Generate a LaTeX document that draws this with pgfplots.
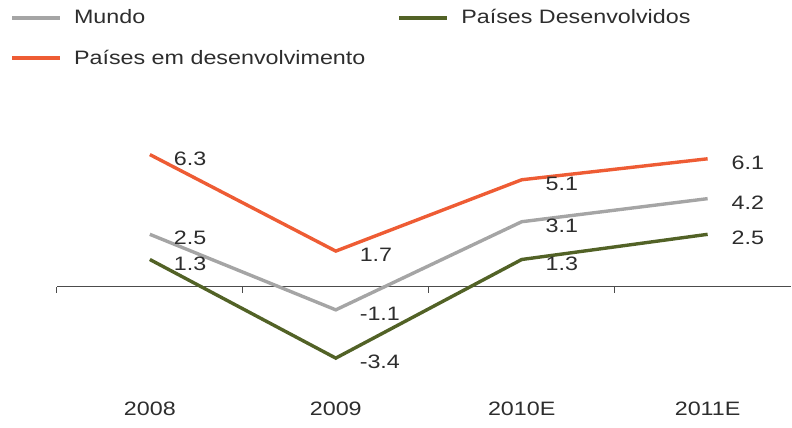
\documentclass[border=0pt]{standalone}
\usepackage{pgfplots}
\pgfplotsset{compat=1.18}
\usepackage{fontspec}
\setmainfont{Liberation Sans}[FakeStretch=1.2]
\definecolor{cOrange}{RGB}{238,92,52}
\definecolor{cGrey}{RGB}{165,165,165}
\definecolor{cGreen}{RGB}{82,98,38}
\definecolor{cText}{RGB}{45,45,45}
\begin{document}
\begin{tikzpicture}
\begin{axis}[
  scale only axis,
  width=735bp, height=262.5bp,
  xmin=-0.5, xmax=3.45,
  ymin=-5, ymax=7.5,
  clip=false,
  axis y line=none,
  axis x line*=middle,
  axis line style={black!70, line width=1.4bp},
  xtick={-0.5,0.5,1.5,2.5},
  xticklabels={{},{},{},{}},
  xtick align=outside,
  major tick length=6bp,
  tick style={black!70, line width=1bp},
  extra x ticks={0,1,2,3},
  extra x tick labels={2008,2009,2010E,2011E},
  extra x tick style={major tick length=0pt, tick label style={anchor=center, yshift=-122bp}},
  tick label style={font=\fontsize{19.5}{22}\selectfont, text=cText},
  nodes near coords,
  point meta=explicit symbolic,
  every node near coord/.append style={anchor=west, xshift=19bp, yshift=-4bp,
     font=\fontsize{19.5}{22}\selectfont, text=cText},
  legend columns=2,
  legend cell align=left,
  legend style={at={(0,1)}, anchor=north west, xshift=-47bp, yshift=122bp,
     draw=none, fill=none, inner sep=0pt,
     font=\fontsize{19.5}{22}\selectfont, text=cText,
     /tikz/every odd column/.append style={column sep=10bp},
     /tikz/every even column/.append style={column sep=30bp},
     row sep=21bp},
  legend image code/.code={\draw[#1, line width=4bp] (0bp,0bp) -- (48bp,0bp);},
]
\addplot[cGrey, line width=3.4bp] table[meta=lab] {
x y lab
0 2.5 2.5
1 -1.1 -1.1
2 3.1 3.1
3 4.2 4.2
};
\addlegendentry{Mundo}
\addplot[cGreen, line width=3.4bp] table[meta=lab] {
x y lab
0 1.3 1.3
1 -3.4 -3.4
2 1.3 1.3
3 2.5 2.5
};
\addlegendentry{Países Desenvolvidos}
\addplot[cOrange, line width=3.4bp] table[meta=lab] {
x y lab
0 6.3 6.3
1 1.7 1.7
2 5.1 5.1
3 6.1 6.1
};
\addlegendentry{Países em desenvolvimento}
\path[draw=none] (axis cs:-0.806,13.667) rectangle (axis cs:3.45,-6.714);
\end{axis}
\end{tikzpicture}
\end{document}
